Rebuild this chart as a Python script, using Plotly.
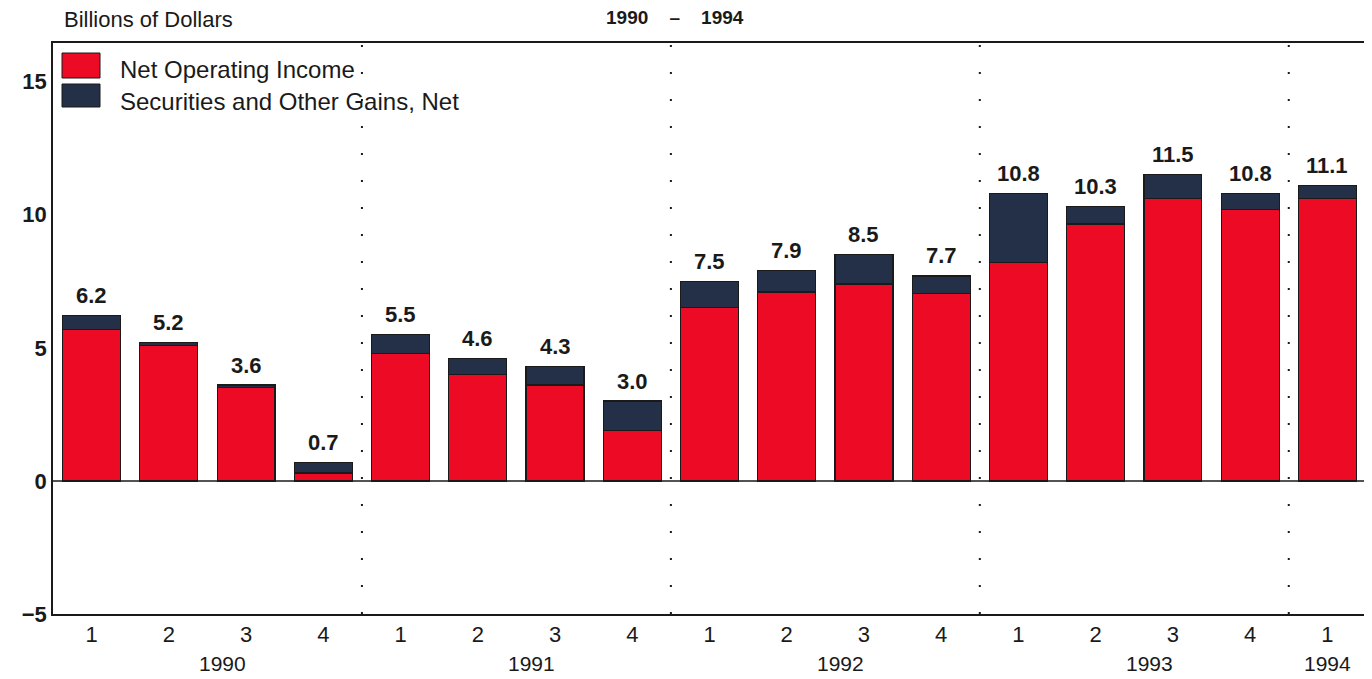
import plotly.graph_objects as go

quarters = ["1", "2", "3", "4", "1", "2", "3", "4", "1", "2", "3", "4", "1", "2", "3", "4", "1"]
years = ["1990", "1991", "1992", "1993", "1994"]
year_start = [0, 4, 8, 12, 16]
net_operating = [5.7, 5.1, 3.5, 0.3, 4.8, 4.0, 3.6, 1.9, 6.5, 7.1, 7.4, 7.05, 8.2, 9.65, 10.6, 10.2, 10.6]
totals = [6.2, 5.2, 3.6, 0.7, 5.5, 4.6, 4.3, 3.0, 7.5, 7.9, 8.5, 7.7, 10.8, 10.3, 11.5, 10.8, 11.1]
gains = [round(t - n, 2) for t, n in zip(totals, net_operating)]
labels = ["%.1f" % t for t in totals]

RED = "#EC0A24"
NAVY = "#233048"
INK = "#1a1a1a"
FONT = "Liberation Sans"

# page is rendered with an 8px body margin; size the figure to fill the window
OFF = 8
FW, FH = 1372 - OFF, 679 - OFF
L, R, T, B = 53, 1366, 43, 614   # plot area in window pixels
PW, PH = R - L, B - T


def px(xp):
    return (xp - L) / PW


def py(yp):
    return (B - yp) / PH


x = list(range(len(quarters)))

fig = go.Figure()
fig.add_trace(go.Bar(x=x, y=net_operating, marker=dict(color=RED, line=dict(color=INK, width=1.2)),
                     width=0.75, name="Net Operating Income", showlegend=False))
fig.add_trace(go.Bar(x=x, y=gains, marker=dict(color=NAVY, line=dict(color=INK, width=1.2)),
                     width=0.75, name="Securities and Other Gains, Net", showlegend=False))

annotations = []
for xi, t, lab in zip(x, totals, labels):
    annotations.append(dict(x=xi, y=t, text="<b>%s</b>" % lab, showarrow=False, yshift=20,
                            font=dict(family=FONT, size=22, color=INK), xanchor="center"))
# year labels
for yr, s in zip(years, year_start):
    pos = s + 1.7 if yr != "1994" else s
    annotations.append(dict(x=pos, y=py(663), xref="x", yref="paper", text=yr, showarrow=False,
                            font=dict(family=FONT, size=21, color=INK), yanchor="middle"))
# headings
annotations.append(dict(x=px(62), y=py(20), xref="paper", yref="paper", text="Billions of Dollars",
                        showarrow=False, xanchor="left", yanchor="middle",
                        font=dict(family=FONT, size=22, color=INK)))
annotations.append(dict(x=px(675), y=py(17), xref="paper", yref="paper",
                        text="<b>1990    –    1994</b>", showarrow=False, xanchor="center", yanchor="middle",
                        font=dict(family=FONT, size=19, color=INK)))
# legend text
annotations.append(dict(x=px(118), y=py(69), xref="paper", yref="paper",
                        text="Net Operating Income", showarrow=False, xanchor="left", yanchor="middle",
                        font=dict(family=FONT, size=24, color=INK)))
annotations.append(dict(x=px(118), y=py(101), xref="paper", yref="paper",
                        text="Securities and Other Gains, Net", showarrow=False, xanchor="left", yanchor="middle",
                        font=dict(family=FONT, size=24, color=INK)))

shapes = []
for sep in [3.5, 7.5, 11.5, 15.5]:
    shapes.append(dict(type="line", x0=sep, x1=sep, y0=0, y1=1, xref="x", yref="paper",
                       line=dict(color=INK, width=2, dash="2px,25px")))
shapes.append(dict(type="line", x0=0, x1=1, y0=0, y1=0, xref="paper", yref="y",
                   line=dict(color=INK, width=1.5)))
# legend swatches
shapes.append(dict(type="rect", xref="paper", yref="paper",
                   x0=px(62), x1=px(100), y0=py(78), y1=py(53),
                   fillcolor=RED, line=dict(color=INK, width=1)))
shapes.append(dict(type="rect", xref="paper", yref="paper",
                   x0=px(62), x1=px(100), y0=py(107), y1=py(84),
                   fillcolor=NAVY, line=dict(color=INK, width=1)))

fig.update_layout(
    barmode="stack",
    width=FW, height=FH,
    margin=dict(l=L - OFF, r=FW - (R - OFF), t=T - OFF, b=FH - (B - OFF), autoexpand=False),
    paper_bgcolor="white", plot_bgcolor="white",
    annotations=annotations, shapes=shapes,
    font=dict(family=FONT, color=INK),
    xaxis=dict(tickmode="array", tickvals=x, ticktext=quarters, range=[-0.5, 16.5], automargin=False,
               showgrid=False, zeroline=False, showline=True, linecolor=INK, linewidth=1.5, mirror=True,
               ticks="", ticklen=0, tickfont=dict(family=FONT, size=22, color=INK)),
    yaxis=dict(range=[-5, 16.45], tickvals=[-5, 0, 5, 10, 15], automargin=False,
               ticktext=["<b>−5</b>", "<b>0</b>", "<b>5</b>", "<b>10</b>", "<b>15</b>"],
               showgrid=False, zeroline=False, showline=True, linecolor=INK, linewidth=1.5, mirror=True,
               ticks="", tickfont=dict(family=FONT, size=22, color=INK)),
    bargap=0.25,
)

fig.write_html("out.html")
